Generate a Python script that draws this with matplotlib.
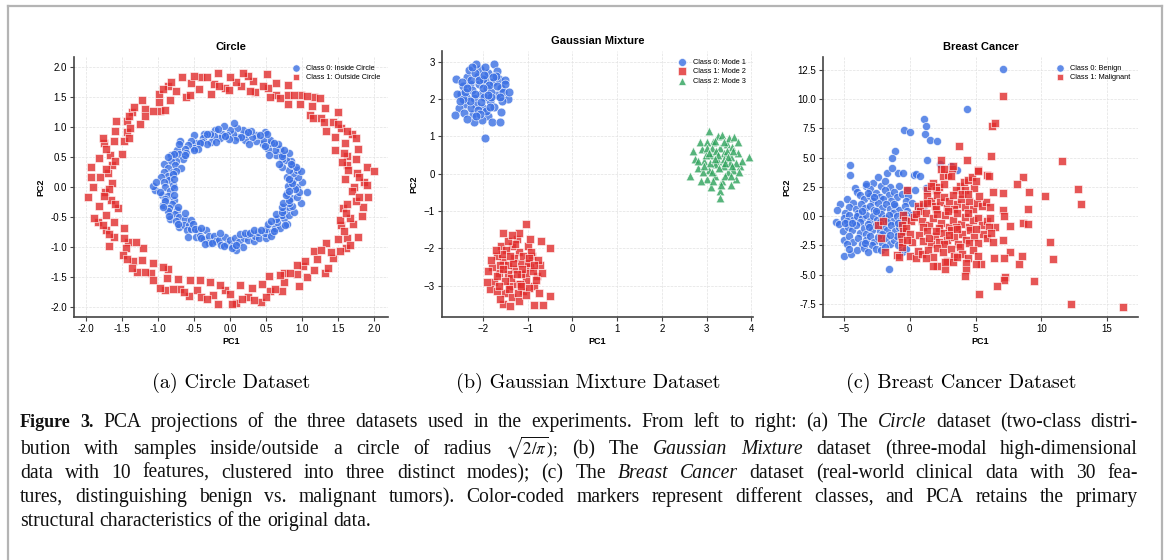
import matplotlib
matplotlib.use('Agg')
import matplotlib.pyplot as plt
import matplotlib.ticker as mticker
import numpy as np
from matplotlib.lines import Line2D

plt.rcParams['font.family'] = ['Liberation Sans', 'DejaVu Sans']
plt.rcParams['mathtext.fontset'] = 'stix'

# ---------------- data ----------------
circle_inner = [
    (0.92, 0.00), (0.84, 0.04), (0.99, 0.09), (0.87, 0.12), (0.94, 0.17), (0.79, 0.17), (0.87, 0.23), (0.93, 0.29),
    (0.81, 0.29), (0.86, 0.36), (0.72, 0.34), (0.85, 0.44), (0.77, 0.45), (0.72, 0.46), (0.82, 0.57), (0.72, 0.55),
    (0.64, 0.53), (0.69, 0.64), (0.62, 0.62), (0.66, 0.72), (0.53, 0.63), (0.56, 0.73), (0.55, 0.78), (0.46, 0.72),
    (0.45, 0.78), (0.48, 0.91), (0.36, 0.76), (0.36, 0.86), (0.30, 0.83), (0.29, 0.93), (0.21, 0.78), (0.20, 0.89),
    (0.17, 0.95), (0.11, 0.84), (0.09, 0.99), (0.04, 0.89),
    (0.00, 0.95), (-0.04, 0.86), (-0.09, 1.01), (-0.12, 0.89), (-0.14, 0.82), (-0.21, 0.95), (-0.23, 0.85), (-0.28, 0.89),
    (-0.27, 0.75), (-0.37, 0.89), (-0.38, 0.82), (-0.39, 0.75), (-0.50, 0.86), (-0.47, 0.73), (-0.54, 0.77), (-0.50, 0.65),
    (-0.59, 0.70), (-0.70, 0.77), (-0.63, 0.63), (-0.62, 0.57), (-0.74, 0.62), (-0.71, 0.55), (-0.66, 0.46), (-0.83, 0.53),
    (-0.75, 0.44), (-0.82, 0.43), (-0.77, 0.36), (-0.92, 0.38), (-0.86, 0.31), (-0.79, 0.25), (-0.92, 0.25), (-0.86, 0.19),
    (-0.96, 0.17), (-0.85, 0.11), (-0.92, 0.08), (-0.80, 0.04),
    (-0.90, 0.00), (-1.05, -0.05), (-0.84, -0.07), (-0.95, -0.13), (-0.87, -0.15), (-0.91, -0.20), (-0.78, -0.21), (-0.94, -0.30),
    (-0.81, -0.29), (-0.85, -0.35), (-0.86, -0.40), (-0.74, -0.38), (-0.77, -0.45), (-0.84, -0.54), (-0.71, -0.50), (-0.75, -0.57),
    (-0.63, -0.53), (-0.71, -0.66), (-0.64, -0.64), (-0.57, -0.63), (-0.60, -0.71), (-0.54, -0.70), (-0.59, -0.84), (-0.45, -0.71),
    (-0.48, -0.83), (-0.42, -0.81), (-0.34, -0.72), (-0.36, -0.87), (-0.30, -0.82), (-0.30, -0.94), (-0.22, -0.82), (-0.20, -0.90),
    (-0.15, -0.88), (-0.13, -0.96), (-0.07, -0.83), (-0.04, -0.95),
    (0.00, -0.88), (0.04, -0.99), (0.07, -0.85), (0.12, -0.92), (0.18, -1.00), (0.19, -0.85), (0.24, -0.88), (0.25, -0.78),
    (0.33, -0.90), (0.34, -0.82), (0.40, -0.85), (0.39, -0.75), (0.49, -0.85), (0.48, -0.76), (0.49, -0.70), (0.58, -0.75),
    (0.52, -0.62), (0.62, -0.68), (0.69, -0.69), (0.65, -0.59), (0.64, -0.54), (0.79, -0.61), (0.75, -0.52), (0.72, -0.46),
    (0.81, -0.47), (0.74, -0.38), (0.88, -0.41), (0.82, -0.34), (0.86, -0.31), (0.81, -0.26), (0.98, -0.26), (0.85, -0.19),
    (0.92, -0.16), (0.79, -0.10), (0.96, -0.08), (0.90, -0.04), (1.07, -0.09), (0.05, 1.07), (-1.07, 0.02), (0.08, -1.05),
    # second pass around the ring
    (0.80, 0.02), (0.86, 0.07), (0.81, 0.14), (0.98, 0.26), (0.91, 0.33), (0.84, 0.39), (0.68, 0.39), (0.72, 0.51),
    (0.74, 0.62), (0.54, 0.54), (0.61, 0.73), (0.48, 0.68), (0.51, 0.88), (0.41, 0.87), (0.26, 0.72), (0.24, 0.91),
    (0.15, 0.83), (0.07, 0.79),
    (-0.02, 0.80), (-0.07, 0.85), (-0.17, 0.96), (-0.20, 0.75), (-0.32, 0.88), (-0.33, 0.72), (-0.42, 0.73), (-0.45, 0.64),
    (-0.51, 0.61), (-0.71, 0.71), (-0.63, 0.53), (-0.78, 0.55), (-0.86, 0.50), (-0.69, 0.32), (-0.75, 0.27), (-0.80, 0.21),
    (-0.78, 0.14), (-1.03, 0.09),
    (-0.78, -0.02), (-0.97, -0.08), (-0.78, -0.14), (-0.91, -0.24), (-0.94, -0.34), (-0.72, -0.34), (-0.85, -0.49), (-0.63, -0.44),
    (-0.73, -0.61), (-0.55, -0.55), (-0.52, -0.62), (-0.49, -0.70), (-0.40, -0.68), (-0.40, -0.85), (-0.35, -0.95), (-0.25, -0.93),
    (-0.14, -0.77), (-0.09, -0.99),
    (0.02, -1.02), (0.08, -0.97), (0.14, -0.79), (0.20, -0.76), (0.28, -0.77), (0.33, -0.72), (0.42, -0.72), (0.57, -0.81),
    (0.61, -0.73), (0.57, -0.57), (0.76, -0.64), (0.64, -0.45), (0.72, -0.42), (0.72, -0.34), (0.73, -0.27), (0.81, -0.22),
    (0.78, -0.14), (0.81, -0.07),
]

circle_outer = [
    (1.72, 0.00), (1.85, 0.08), (1.59, 0.14), (1.76, 0.23), (1.90, 0.34), (1.62, 0.36), (1.75, 0.47), (1.62, 0.51),
    (1.77, 0.64), (1.46, 0.61), (1.59, 0.74), (1.69, 0.88), (1.45, 0.84), (1.54, 0.98), (1.33, 0.93), (1.42, 1.09),
    (1.49, 1.25), (1.26, 1.16), (1.32, 1.32), (1.11, 1.21), (1.14, 1.36), (1.16, 1.51), (0.97, 1.38), (0.98, 1.53),
    (0.80, 1.38), (0.80, 1.54), (0.80, 1.71), (0.64, 1.54), (0.63, 1.73), (0.52, 1.65), (0.51, 1.89), (0.35, 1.59),
    (0.31, 1.77), (0.24, 1.85), (0.15, 1.69), (0.08, 1.76),
    (0.00, 1.83), (-0.07, 1.65), (-0.17, 1.91), (-0.23, 1.72), (-0.27, 1.56), (-0.40, 1.83), (-0.44, 1.64), (-0.54, 1.73),
    (-0.67, 1.83), (-0.62, 1.50), (-0.75, 1.61), (-0.87, 1.68), (-0.84, 1.45), (-0.99, 1.55), (-0.99, 1.42), (-0.97, 1.27),
    (-1.23, 1.46), (-1.19, 1.30), (-1.19, 1.19), (-1.37, 1.26), (-1.25, 1.05), (-1.43, 1.10), (-1.59, 1.11), (-1.44, 0.92),
    (-1.60, 0.93), (-1.47, 0.77), (-1.62, 0.76), (-1.76, 0.73), (-1.51, 0.55), (-1.67, 0.53), (-1.82, 0.49), (-1.64, 0.36),
    (-1.94, 0.34), (-1.70, 0.23), (-1.81, 0.16), (-1.64, 0.07),
    (-1.90, 0.00), (-1.74, -0.08), (-1.97, -0.17), (-1.65, -0.22), (-1.82, -0.32), (-1.56, -0.35), (-1.73, -0.46), (-1.84, -0.58),
    (-1.61, -0.58), (-1.72, -0.71), (-1.48, -0.69), (-1.61, -0.84), (-1.69, -0.98), (-1.42, -0.91), (-1.45, -1.02), (-1.49, -1.14),
    (-1.21, -1.02), (-1.35, -1.24), (-1.22, -1.22), (-1.30, -1.42), (-1.07, -1.27), (-1.10, -1.43), (-1.08, -1.55), (-0.87, -1.37),
    (-0.88, -1.52), (-0.90, -1.72), (-0.72, -1.54), (-0.70, -1.70), (-0.56, -1.55), (-0.57, -1.82), (-0.46, -1.72), (-0.40, -1.83),
    (-0.28, -1.59), (-0.24, -1.80), (-0.17, -1.95), (-0.08, -1.72),
    (0.00, -1.79), (0.08, -1.93), (0.14, -1.63), (0.24, -1.84), (0.30, -1.68), (0.43, -1.92), (0.44, -1.62), (0.55, -1.74),
    (0.54, -1.49), (0.72, -1.74), (0.74, -1.59), (0.75, -1.44), (0.96, -1.65), (0.93, -1.46), (1.06, -1.51), (1.01, -1.32),
    (1.16, -1.38), (1.31, -1.43), (1.20, -1.20), (1.16, -1.06), (1.42, -1.19), (1.40, -1.08), (1.33, -0.94), (1.60, -1.02),
    (1.49, -0.86), (1.62, -0.85), (1.78, -0.83), (1.54, -0.64), (1.70, -0.62), (1.66, -0.52), (1.83, -0.49), (1.57, -0.35),
    (1.84, -0.33), (1.74, -0.23), (1.91, -0.17), (1.69, -0.07), (1.99, 0.26),
    # second pass around the ring
    (1.90, 0.03), (1.79, 0.16), (1.63, 0.29), (1.55, 0.41), (1.58, 0.57), (1.74, 0.81), (1.62, 0.94), (1.50, 1.05),
    (1.30, 1.09), (1.15, 1.15), (1.25, 1.49), (1.06, 1.52), (0.89, 1.54), (0.69, 1.49), (0.55, 1.51), (0.45, 1.69),
    (0.28, 1.60), (0.17, 1.90),
    (-0.02, 1.62), (-0.15, 1.69), (-0.32, 1.83), (-0.50, 1.86), (-0.56, 1.54), (-0.82, 1.76), (-0.94, 1.63), (-0.91, 1.29),
    (-1.07, 1.27), (-1.34, 1.34), (-1.41, 1.18), (-1.39, 0.98), (-1.40, 0.81), (-1.77, 0.82), (-1.72, 0.63), (-1.60, 0.43),
    (-1.72, 0.30), (-1.94, 0.17),
    (-1.68, -0.03), (-1.75, -0.15), (-1.60, -0.28), (-1.89, -0.51), (-1.77, -0.64), (-1.68, -0.78), (-1.47, -0.85), (-1.31, -0.92),
    (-1.43, -1.20), (-1.36, -1.36), (-1.19, -1.42), (-0.94, -1.34), (-0.98, -1.69), (-0.80, -1.70), (-0.64, -1.75), (-0.42, -1.56),
    (-0.33, -1.87), (-0.14, -1.64),
    (0.03, -1.95), (0.16, -1.87), (0.33, -1.89), (0.49, -1.84), (0.62, -1.71), (0.69, -1.47), (0.83, -1.44), (0.92, -1.31),
    (1.04, -1.24), (1.36, -1.36), (1.26, -1.05), (1.52, -1.07), (1.66, -0.96), (1.58, -0.74), (1.52, -0.55), (1.60, -0.43),
    (1.62, -0.29), (1.79, -0.16),
]

gauss_mode1 = [
    (-2.05, 2.15), (-1.92, 2.30), (-2.20, 2.02), (-1.85, 1.95), (-2.30, 2.40), (-2.12, 2.62), (-1.78, 2.45), (-2.40, 1.88),
    (-2.00, 1.75), (-1.70, 2.10), (-2.25, 2.25), (-1.95, 2.50), (-2.15, 1.85), (-1.60, 2.30), (-2.50, 2.15), (-2.08, 2.80),
    (-1.88, 2.70), (-2.35, 2.60), (-1.75, 1.80), (-2.22, 1.60), (-1.98, 2.05), (-2.10, 2.40), (-1.82, 2.20), (-2.45, 2.35),
    (-1.65, 2.55), (-2.28, 1.75), (-1.90, 1.55), (-2.60, 2.55), (-2.15, 2.95), (-1.75, 2.95), (-1.55, 2.20), (-1.50, 2.50),
    (-2.55, 1.75), (-2.62, 1.58), (-2.38, 2.05), (-2.02, 1.45), (-1.80, 1.40), (-2.20, 1.40), (-1.63, 1.38), (-1.95, 0.95),
    (-1.45, 2.00), (-1.42, 2.18), (-2.58, 2.15), (-2.32, 2.78), (-1.70, 2.75), (-2.00, 2.55), (-2.18, 2.15), (-1.87, 2.38),
    (-2.42, 1.62), (-1.58, 1.95), (-2.05, 1.92), (-1.72, 2.62), (-2.27, 2.50), (-2.12, 1.70), (-1.95, 2.85), (-1.60, 1.65),
    (-2.48, 2.45), (-2.35, 1.48), (-1.83, 2.05), (-2.00, 2.30), (-1.52, 2.40), (-2.18, 2.70), (-1.93, 1.68), (-2.30, 1.95),
    (-1.68, 2.35), (-2.10, 2.50), (-1.78, 2.58), (-2.45, 2.00), (-2.06, 1.60), (-1.88, 2.12),
    (-2.40, 2.20), (-2.25, 2.85), (-1.62, 2.05), (-2.52, 1.95), (-2.15, 1.55), (-1.85, 1.78), (-2.35, 2.30), (-1.98, 2.65),
]

gauss_mode2 = [
    (-1.30, -2.55), (-1.15, -2.40), (-1.45, -2.70), (-1.05, -2.85), (-1.55, -2.30), (-1.20, -2.10), (-1.40, -3.00), (-0.95, -2.50),
    (-1.65, -2.65), (-1.25, -2.95), (-0.90, -2.20), (-1.70, -2.20), (-1.35, -1.95), (-1.10, -3.15), (-1.50, -3.20), (-0.80, -2.75),
    (-1.80, -2.50), (-1.00, -1.95), (-1.60, -1.95), (-1.25, -1.75), (-1.45, -2.45), (-1.05, -2.65), (-0.85, -3.00), (-1.75, -2.90),
    (-1.35, -3.30), (-0.72, -2.45), (-1.90, -2.60), (-1.55, -1.60), (-1.05, -1.35), (-0.50, -1.98), (-0.70, -1.80), (-0.50, -3.28),
    (-0.85, -3.52), (-0.65, -3.52), (-1.55, -3.48), (-1.40, -3.55), (-1.20, -3.40), (-1.85, -3.10), (-1.70, -3.15), (-0.75, -3.20),
    (-1.15, -2.70), (-1.30, -2.25), (-0.98, -3.05), (-1.62, -2.45), (-1.18, -2.95), (-0.88, -2.60), (-1.48, -2.05), (-1.10, -2.20),
    (-1.38, -2.80), (-0.78, -2.30), (-1.68, -2.75), (-1.22, -3.20), (-1.00, -2.40), (-1.52, -2.88), (-1.28, -1.88), (-0.68, -2.65),
    (-1.82, -2.30), (-1.12, -2.55), (-1.42, -3.10), (-0.92, -2.10), (-1.58, -2.15), (-1.03, -3.25), (-1.33, -2.38), (-0.82, -2.85),
    (-1.72, -2.05), (-1.20, -1.60), (-1.45, -1.80), (-0.95, -1.75), (-1.92, -2.90), (-1.62, -3.35),
    (-1.25, -2.70), (-1.55, -2.55), (-0.98, -2.25), (-1.40, -2.20), (-1.15, -3.00), (-1.65, -3.00), (-0.85, -2.45), (-1.35, -1.65),
]

gauss_mode3 = [
    (3.25, 0.35), (3.10, 0.50), (3.40, 0.20), (3.30, 0.70), (3.05, 0.10), (3.55, 0.45), (3.20, -0.05), (3.45, 0.80),
    (2.95, 0.35), (3.60, 0.10), (3.15, 0.85), (3.35, -0.20), (2.90, 0.65), (3.70, 0.55), (3.00, -0.15), (3.50, 0.95),
    (3.05, 1.15), (3.25, 1.00), (2.75, 0.40), (2.80, 0.15), (3.65, -0.15), (3.30, -0.45), (3.30, -0.65), (2.62, -0.05),
    (3.95, 0.45), (3.75, 0.20), (3.55, -0.30), (3.10, -0.35), (2.85, 0.85), (3.62, 0.98), (3.40, 0.55), (3.18, 0.25),
    (3.48, 0.05), (2.98, 0.50), (3.35, 1.05), (3.70, 0.85), (2.88, -0.20), (3.58, 0.72), (3.12, 0.68), (3.42, -0.05),
    (3.22, 0.60), (2.70, 0.60), (3.80, 0.35), (3.02, 0.85), (3.52, 0.30), (3.28, 0.15), (3.15, -0.20), (3.65, 0.30),
    (2.92, 0.05), (3.38, 0.40), (3.08, 0.30), (3.45, 0.62), (3.20, 0.88), (3.55, -0.05), (2.82, 0.35), (3.72, 0.05),
    (3.32, -0.30), (3.00, 0.70), (3.60, 0.60), (3.25, 0.50),
    (3.12, 0.05), (3.48, 0.45), (2.95, 0.20), (3.38, 0.85), (3.58, 0.22), (3.20, 0.40), (3.05, 0.55), (3.42, 0.30),
]

bc_benign = [
    (-4.2, 2.4), (-3.3, 2.6), (-2.8, 2.8), (-2.4, 3.3), (-2.2, 2.6), (-1.7, 3.7), (-1.5, 2.5), (-0.9, 3.7), (-0.5, 3.7),
    (0.3, 3.5), (0.5, 3.6), (0.8, 3.4), (-3.0, 2.3), (-0.8, 2.6), (-0.2, 2.2), (1.2, 2.4), (-4.0, 2.1),
    (-4.8, 1.5), (-3.8, 1.8), (-3.5, 1.5), (-3.0, 1.7), (-2.6, 2.0), (-2.3, 1.6), (-1.9, 2.2), (-1.6, 1.8), (-1.2, 2.1),
    (-1.0, 1.6), (-0.6, 1.9), (-0.1, 1.7), (0.4, 2.2), (-2.0, 1.5), (-4.3, 1.1), (-3.2, 2.0), (-2.8, 1.3), (-1.4, 1.3),
    (-0.3, 1.3), (0.2, 1.1),
    (-5.3, 1.0), (-5.5, 0.5), (-4.6, 0.8), (-4.1, 0.6), (-3.7, 1.0), (-3.4, 0.7), (-3.0, 0.9), (-2.7, 0.5), (-2.4, 1.1),
    (-2.1, 0.7), (-1.8, 1.0), (-1.5, 0.6), (-1.1, 0.9), (-0.8, 0.5), (-0.4, 0.9), (-4.9, 0.3), (-3.9, 0.3), (-2.5, 0.3),
    (-1.3, 0.3), (-0.2, 0.4), (0.6, 0.7), (1.1, 0.9),
    (-5.6, -0.5), (-5.4, -0.7), (-5.0, -0.2), (-4.6, 0.1), (-4.3, -0.3), (-4.0, 0.0), (-3.6, -0.2), (-3.3, 0.1), (-3.0, -0.4),
    (-2.8, 0.0), (-2.5, -0.3), (-2.2, 0.2), (-1.9, -0.2), (-1.6, 0.1), (-1.3, -0.4), (-1.0, 0.0), (-0.7, -0.3), (-0.4, 0.2),
    (-0.1, -0.2), (-4.8, -0.4), (-3.8, -0.5), (-2.6, 0.4), (-1.7, -0.5), (0.2, 0.1),
    (-5.1, -1.3), (-4.7, -0.9), (-4.4, -1.2), (-4.1, -0.8), (-3.8, -1.4), (-3.5, -1.0), (-3.2, -0.7), (-2.9, -1.2), (-2.6, -0.8),
    (-2.3, -1.3), (-2.0, -0.9), (-1.7, -1.2), (-1.4, -0.8), (-1.1, -1.3), (-0.8, -0.9), (-0.5, -1.4), (-4.9, -0.6), (-3.3, -1.5),
    (-2.1, -1.5), (-0.9, -0.6),
    (-5.0, -2.0), (-4.6, -1.7), (-4.3, -2.2), (-3.9, -1.9), (-3.6, -2.4), (-3.3, -2.0), (-3.0, -1.7), (-2.7, -2.2), (-2.4, -1.8),
    (-2.1, -2.3), (-1.8, -1.9), (-1.5, -2.4), (-1.2, -2.0), (-0.9, -2.5), (-4.8, -2.4), (-2.9, -2.5), (-1.0, -1.7),
    (-5.0, -3.4), (-4.5, -3.2), (-4.6, -2.8), (-4.0, -2.9), (-3.5, -2.7), (-3.2, -3.1), (-2.6, -2.8), (-2.2, -2.9), (-1.9, -2.6),
    (-0.6, -3.1), (-0.3, -2.8), (-1.6, -4.55),
    (-3.6, 0.4), (-3.1, -0.9), (-2.3, -0.5), (-4.4, -0.6), (-1.5, -1.6), (-2.7, 1.6), (-3.4, -2.3), (-1.2, 1.0),
    (7.07, 12.55), (4.33, 9.17), (1.08, 8.27), (1.21, 7.72), (-0.44, 7.35), (0.02, 7.16), (1.13, 7.0), (1.54, 6.5), (2.05, 6.45),
    (-1.12, 5.59), (-1.33, 4.97), (1.29, 4.8), (-4.54, 4.4), (-1.33, 4.14), (2.3, 4.43), (3.11, 4.3), (3.57, 3.94), (-4.54, 3.54),
    (-3.3, 2.7), (-1.9, 3.0),
]

bc_malignant = [
    (-2.4, -0.8), (-2.0, -0.4), (-2.2, -1.9), (-1.9, -3.1), (-1.0, -3.3), (-0.8, -3.5), (0.0, -3.4), (0.5, -3.6), (0.6, -3.0),
    (-0.5, 0.1), (-0.4, -0.3), (-0.6, -0.8), (-0.5, -1.3), (-0.7, -1.7), (-0.6, -2.2), (-0.6, -2.6), (-0.2, 2.2), (0.1, -0.4),
    (0.3, -0.1), (-0.3, -1.0), (0.0, -1.5), (0.2, -2.2), (-0.2, -2.0),
    (1.3, 2.2), (1.8, 2.8), (2.2, 2.5), (2.6, 2.7), (2.5, 3.4), (2.9, 3.5), (3.2, 4.0), (3.1, 3.4), (2.4, 4.0), (3.8, 2.6),
    (4.1, 2.9), (4.4, 3.1), (4.7, 3.3), (4.9, 2.4), (5.0, 3.0), (3.5, 2.2), (2.0, 2.2), (1.6, 2.6), (4.2, 2.2), (5.9, 3.5),
    (5.2, 3.9), (2.6, 4.0), (3.3, 4.3),
    (0.6, 0.9), (1.0, 1.0), (1.3, 1.7), (1.6, 1.3), (1.9, 0.9), (2.1, 1.8), (2.3, 1.2), (2.6, 1.6), (2.8, 0.7), (3.0, 1.3),
    (3.3, 1.8), (3.6, 1.0), (3.9, 1.5), (4.2, 0.8), (4.5, 1.3), (4.8, 0.6), (5.1, 1.1), (5.5, 0.9), (5.8, 1.2), (6.1, 0.8),
    (6.3, 2.1), (4.0, 1.9), (2.0, 0.6), (0.8, 0.4), (1.3, 1.1), (3.4, 0.6), (4.4, 1.9), (5.3, 1.7),
    (0.5, 0.2), (0.9, -0.4), (1.2, 0.3), (1.5, -0.8), (1.8, -0.2), (2.1, 0.2), (2.4, -0.6), (2.7, 0.1), (3.0, -0.9), (3.3, -0.3),
    (3.6, 0.3), (3.9, -0.7), (4.2, -0.1), (4.5, -0.9), (4.8, -0.3), (5.2, -0.2), (5.5, -0.8), (5.9, -0.4), (6.1, -0.2), (6.5, -0.9),
    (1.0, -0.9), (2.9, 0.4), (4.4, 0.3), (6.0, -0.9), (3.5, -0.9), (2.2, -1.0),
    (0.7, -1.6), (1.0, -2.1), (1.3, -1.3), (1.6, -2.4), (1.9, -1.7), (2.2, -2.2), (2.5, -1.4), (2.8, -2.0), (3.1, -1.2), (3.4, -1.8),
    (3.7, -2.4), (4.0, -1.5), (4.3, -2.0), (4.6, -1.2), (4.9, -1.8), (5.2, -2.3), (5.6, -1.5), (5.9, -1.9), (6.2, -1.4), (6.3, -2.2),
    (1.5, -1.9), (3.0, -1.6), (3.6, -1.1), (4.5, -2.3), (2.6, -2.4), (5.0, -1.1), (2.0, -1.3),
    (0.9, -3.2), (1.4, -2.9), (1.8, -3.5), (2.1, -2.7), (2.5, -3.1), (2.8, -3.8), (3.1, -2.8), (3.4, -3.4), (3.8, -2.6), (4.0, -3.2),
    (4.8, -2.9), (5.2, -3.4), (2.1, -4.3), (2.7, -4.5), (3.3, -3.9), (1.8, -4.3), (2.7, -3.9), (3.6, -3.5), (4.4, -3.6), (1.2, -3.6),
    (7.07, 10.23), (6.28, 7.72), (6.51, 7.98), (3.75, 5.99), (2.40, 4.82), (4.33, 4.82), (6.15, 5.11), (11.6, 4.74), (5.21, 3.88),
    (6.0, 3.46), (8.64, 3.32), (8.13, 2.72), (12.82, 2.32), (10.31, 1.75), (9.04, 2.04), (7.06, 2.0), (13.0, 1.0), (9.0, 0.59),
    (7.06, 0.5), (7.2, 0.0), (7.62, -0.84), (8.6, -0.55), (9.0, -0.7), (10.7, -2.2), (7.1, -2.03), (10.9, -3.65), (7.6, -3.03),
    (7.2, -3.6), (6.4, -3.55), (8.5, -3.37), (8.3, -4.1), (5.4, -4.1), (5.0, -4.1), (4.3, -4.0), (4.3, -4.6), (4.2, -5.1),
    (7.25, -5.16), (7.15, -5.44), (9.45, -5.5), (6.6, -5.93), (5.3, -6.67), (12.24, -7.5), (16.2, -7.72),
]

panel_titles = ["Circle", "Gaussian Mixture", "Breast Cancer"]
legend_circle = ["Class 0: Inside Circle", "Class 1: Outside Circle"]
legend_gauss = ["Class 0: Mode 1", "Class 1: Mode 2", "Class 2: Mode 3"]
legend_bc = ["Class 0: Benign", "Class 1: Malignant"]
subcaptions = ["(a) Circle Dataset", "(b) Gaussian Mixture Dataset", "(c) Breast Cancer Dataset"]

BLUE = '#3a6fe3'
RED = '#e02c2c'
GREEN = '#2ca25a'

# ---------------- figure ----------------
W, H = 1168, 560
fig = plt.figure(figsize=(W / 100, H / 100), dpi=100)
fig.patch.set_facecolor('white')


def ax_at(l, t, r, b):
    return fig.add_axes([l / W, 1 - b / H, (r - l) / W, (b - t) / H])


def style(ax, title, xlim, ylim, xticks, yticks, tpad):
    ax.set_xlim(xlim)
    ax.set_ylim(ylim)
    ax.set_xticks(xticks)
    ax.set_yticks(yticks)
    for s in ['top', 'right']:
        ax.spines[s].set_visible(False)
    for s in ['left', 'bottom']:
        ax.spines[s].set_color('#444444')
        ax.spines[s].set_linewidth(1.2)
    ax.grid(True, ls='--', lw=0.5, color='#e2e2e2')
    ax.set_axisbelow(True)
    ax.tick_params(labelsize=7, length=3, width=0.8, color='#444444', pad=2, labelcolor='#000000')
    ax.set_title(title, fontsize=8, fontweight='bold', pad=tpad)
    ax.set_xlabel('PC1', fontsize=6.5, fontweight='bold', labelpad=2)
    ax.set_ylabel('PC2', fontsize=6.5, fontweight='bold', labelpad=4)


def scat(ax, pts, color, marker, label, s=30):
    a = np.array(pts)
    ax.scatter(a[:, 0], a[:, 1], s=s, c=color, marker=marker, alpha=0.8,
               edgecolors='white', linewidths=0.5, label=label)


def legend(ax):
    ax.legend(loc='upper right', frameon=False, fontsize=5.3, handletextpad=0.4,
              labelspacing=0.35, borderaxespad=0.6, markerscale=0.9)


axA = ax_at(74, 57, 388, 317)
scat(axA, circle_inner, BLUE, 'o', legend_circle[0], s=34)
scat(axA, circle_outer, RED, 's', legend_circle[1], s=30)
style(axA, panel_titles[0], (-2.17, 2.19), (-2.17, 2.17),
      np.arange(-2.0, 2.01, 0.5), np.arange(-2.0, 2.01, 0.5), 5)
axA.xaxis.set_major_formatter(mticker.FormatStrFormatter('%.1f'))
axA.yaxis.set_major_formatter(mticker.FormatStrFormatter('%.1f'))
legend(axA)

axB = ax_at(442, 51, 753, 317)
scat(axB, gauss_mode1, BLUE, 'o', legend_gauss[0], s=40)
scat(axB, gauss_mode2, RED, 's', legend_gauss[1], s=36)
scat(axB, gauss_mode3, GREEN, '^', legend_gauss[2], s=38)
style(axB, panel_titles[1], (-2.92, 4.04), (-3.84, 3.29),
      np.arange(-2, 5, 1), np.arange(-3, 4, 1), 5)
legend(axB)

axC = ax_at(823, 57, 1138, 317)
scat(axC, bc_benign, BLUE, 'o', legend_bc[0], s=34)
scat(axC, bc_malignant, RED, 's', legend_bc[1], s=30)
style(axC, panel_titles[2], (-6.6, 17.36), (-8.61, 13.58),
      [-5, 0, 5, 10, 15], np.arange(-7.5, 12.6, 2.5), 5)
axC.yaxis.set_major_formatter(mticker.FormatStrFormatter('%.1f'))
legend(axC)

# subcaptions
for txt, cx in zip(subcaptions, [231, 588, 961]):
    fig.text(cx / W, 1 - 388 / H, txt, ha='center', va='baseline',
             fontsize=14.5, family=['cmr10', 'DejaVu Serif'])

# figure caption, justified
cap_lines = [
    [("Figure 3.", 'b'), ("PCA projections of the three datasets used in the experiments. From left to right: (a) The", 'n'),
     ("Circle", 'i'), ("dataset (two-class distri-", 'n')],
    [("bution with samples inside/outside a circle of radius", 'n'), ("$\\sqrt{2/\\pi}$);", 'm'), ("(b) The", 'n'),
     ("Gaussian Mixture", 'i'), ("dataset (three-modal high-dimensional", 'n')],
    [("data with 10 features, clustered into three distinct modes); (c) The", 'n'), ("Breast Cancer", 'i'),
     ("dataset (real-world clinical data with 30 fea-", 'n')],
    [("tures, distinguishing benign vs. malignant tumors). Color-coded markers represent different classes, and PCA retains the primary", 'n')],
    [("structural characteristics of the original data.", 'n')],
]
cap_base = [427, 454, 478, 502, 526]
renderer = fig.canvas.get_renderer()
X0, X1 = 20, 1138
SERIF = ['Liberation Serif', 'DejaVu Serif']
CAP_SIZE = 14.1
BOLD_SIZE = 13.0

for li, (segs, yb) in enumerate(zip(cap_lines, cap_base)):
    words = []
    for text, st in segs:
        if st == 'm':
            words.append((text, st))
            continue
        for w in text.split(' '):
            if w:
                words.append((w, st))
    arts, widths = [], []
    for w, st in words:
        kw = dict(fontsize=CAP_SIZE, family=SERIF, va='baseline', ha='left', color='#111111')
        if st == 'b':
            kw['fontweight'] = 'bold'
            kw['fontsize'] = BOLD_SIZE
        if st == 'i':
            kw['fontstyle'] = 'italic'
        if st == 'm':
            kw['fontsize'] = CAP_SIZE * 0.86
        t = fig.text(0, 1 - yb / H, w, **kw)
        arts.append(t)
        widths.append(t.get_window_extent(renderer).width)
    space = 0.25 * CAP_SIZE * 100 / 72
    if li < 4 and len(arts) > 1:
        gap = max((X1 - X0 - sum(widths)) / (len(arts) - 1), 2.0)
    else:
        gap = space
    x = X0
    for t, wd in zip(arts, widths):
        t.set_x(x / W)
        x += wd + gap

# light frame
frame_kw = dict(color='#b4b4b4', lw=1.6, transform=fig.transFigure, clip_on=False)
fig.add_artist(Line2D([8 / W, 8 / W], [0, 1 - 6 / H], **frame_kw))
fig.add_artist(Line2D([8 / W, 1162 / W], [1 - 6 / H, 1 - 6 / H], **frame_kw))
fig.add_artist(Line2D([1162 / W, 1162 / W], [0, 1 - 6 / H], **frame_kw))

fig.savefig('out.png', dpi=100)
